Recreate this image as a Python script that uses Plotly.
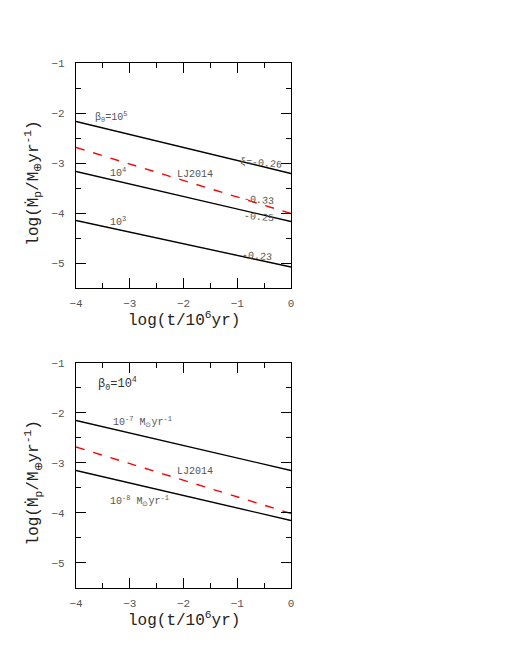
import plotly.graph_objects as go

# log(t / 1e6 yr) at the two ends of every line
log_t = [-4, 0]

# top panel: log(Mdot_p) for three beta_0 values plus LJ2014
top_beta5 = [-2.17, -3.21]
top_beta4 = [-3.17, -4.17]
top_beta3 = [-4.15, -5.08]
top_lj2014 = [-2.69, -4.01]

# bottom panel: beta_0 = 1e4 for two disc accretion rates plus LJ2014
bot_mdot7 = [-2.15, -3.15]
bot_mdot8 = [-3.15, -4.15]
bot_lj2014 = [-2.68, -4.01]

x_ticks = [-4, -3, -2, -1, 0]
y_ticks = [-5, -4, -3, -2, -1]

MONO = "Liberation Mono"
GREY = "#555555"

fig = go.Figure()

for ys in [top_beta5, top_beta4, top_beta3]:
    fig.add_trace(go.Scatter(x=log_t, y=ys, mode="lines",
                             line=dict(color="black", width=1.4),
                             xaxis="x", yaxis="y", showlegend=False))
fig.add_trace(go.Scatter(x=log_t, y=top_lj2014, mode="lines",
                         line=dict(color="red", width=1.4, dash="dash"),
                         xaxis="x", yaxis="y", showlegend=False))

for ys in [bot_mdot7, bot_mdot8]:
    fig.add_trace(go.Scatter(x=log_t, y=ys, mode="lines",
                             line=dict(color="black", width=1.4),
                             xaxis="x2", yaxis="y2", showlegend=False))
fig.add_trace(go.Scatter(x=log_t, y=bot_lj2014, mode="lines",
                         line=dict(color="red", width=1.4, dash="dash"),
                         xaxis="x2", yaxis="y2", showlegend=False))

axis_common = dict(
    showline=True, linecolor="black", linewidth=1.2, mirror="ticks",
    ticks="inside", ticklen=10, tickwidth=1.2, tickcolor="black",
    showgrid=False, zeroline=False,
    tickfont=dict(family=MONO, size=11, color=GREY),
    minor=dict(ticks="inside", ticklen=5, tickwidth=1.2, dtick=0.5,
               tickcolor="black", showgrid=False),
)

# page body has an 8px margin, so the figure is a bit smaller than the window
fig.update_layout(
    width=502, height=652,
    margin=dict(l=68, r=219, t=55, b=72),
    plot_bgcolor="white", paper_bgcolor="white",
    xaxis=dict(axis_common, domain=[0, 1], range=[-4, 0], tickvals=x_ticks,
               anchor="y", ticklabelstandoff=5),
    yaxis=dict(axis_common, domain=[0.5714, 1], range=[-5.5, -1], tickvals=y_ticks,
               anchor="x", ticklabelstandoff=8),
    xaxis2=dict(axis_common, domain=[0, 1], range=[-4, 0], tickvals=x_ticks,
                anchor="y2", ticklabelstandoff=5),
    yaxis2=dict(axis_common, domain=[0, 0.4286], range=[-5.5, -1], tickvals=y_ticks,
                anchor="x2", ticklabelstandoff=8),
)

x_title = "log(t/10<sup>6</sup>yr)"
y_title = "log(Ṁ<sub>p</sub>/M<sub>⊕</sub>yr<sup>-1</sup>)"
title_font = dict(family=MONO, size=16, color="#222222")
for yp in [0.512, -0.06]:
    fig.add_annotation(text=x_title, xref="paper", yref="paper", x=0.5, y=yp,
                       xanchor="center", yanchor="middle",
                       showarrow=False, font=title_font)
for yp in [0.771, 0.2]:
    fig.add_annotation(text=y_title, xref="paper", yref="paper", x=-0.198, y=yp,
                       xanchor="center", yanchor="middle",
                       showarrow=False, textangle=-90, font=title_font)

label_font = dict(family=MONO, size=10, color=GREY)
top_labels = [
    ("β<sub>0</sub>=10<sup>5</sup>", -3.68, -2.08, 0),
    ("ξ=-0.26", -1.0, -3.0, 5),
    ("10<sup>4</sup>", -3.40, -3.18, 0),
    ("LJ2014", -2.16, -3.22, 0),
    ("-0.33", -0.92, -3.74, 5),
    ("-0.25", -0.92, -4.09, 5),
    ("10<sup>3</sup>", -3.40, -4.16, 0),
    ("-0.23", -0.96, -4.86, 5),
]
for txt, xv, yv, ang in top_labels:
    fig.add_annotation(text=txt, x=xv, y=yv, xref="x", yref="y", xanchor="left",
                       showarrow=False, textangle=ang, font=label_font)

bot_labels = [
    ("10<sup>-7</sup> M<sub>⊙</sub>yr<sup>-1</sup>", -3.35, -2.18),
    ("LJ2014", -2.16, -3.18),
    ("10<sup>-8</sup> M<sub>⊙</sub>yr<sup>-1</sup>", -3.40, -3.76),
]
for txt, xv, yv in bot_labels:
    fig.add_annotation(text=txt, x=xv, y=yv, xref="x2", yref="y2", xanchor="left",
                       showarrow=False, font=label_font)
fig.add_annotation(text="β<sub>0</sub>=10<sup>4</sup>", x=-3.62, y=-1.42,
                   xref="x2", yref="y2", xanchor="left", showarrow=False,
                   font=dict(family=MONO, size=12, color="#333333"))

fig.write_html("out.html")
